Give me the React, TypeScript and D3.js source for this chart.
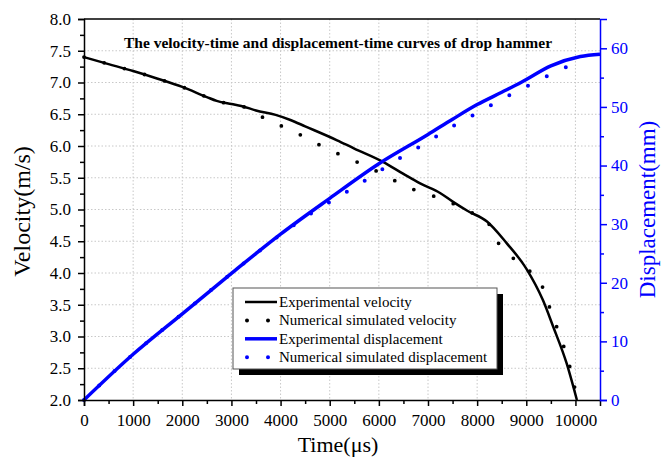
import React, { useRef, useEffect } from "react";
import * as d3 from "d3";

// experimental velocity (time in µs, velocity in m/s)
const expVelT = [0, 500, 1000, 1500, 2000, 2500, 2700, 3000, 3200, 3500, 3900, 4200, 4500, 5150, 5500, 6085, 6500, 6840, 7245, 7510, 7800, 8200, 8600, 9000, 9340, 9550, 9820, 10030];
const expVelV = [7.4, 7.29, 7.18, 7.06, 6.93, 6.77, 6.71, 6.66, 6.63, 6.56, 6.49, 6.41, 6.31, 6.09, 5.96, 5.75, 5.56, 5.41, 5.26, 5.12, 4.98, 4.81, 4.47, 4.07, 3.57, 3.15, 2.58, 2.0];

// numerical simulated velocity
const simVelT = [0, 500, 1000, 1500, 2000, 2500, 2700, 3000, 3200, 3400, 3765, 4172, 4558, 4965, 5372, 5780, 6186, 6593, 7000, 7434, 7800, 8215, 8384, 8655, 8995, 9280, 9436, 9586, 9742, 9870, 9971, 10050];
const simVelV = [7.4, 7.29, 7.18, 7.06, 6.93, 6.77, 6.71, 6.66, 6.63, 6.57, 6.39, 6.27, 6.11, 5.95, 5.81, 5.67, 5.51, 5.35, 5.24, 5.12, 4.98, 4.8, 4.53, 4.29, 4.07, 3.87, 3.54, 3.22, 2.89, 2.57, 2.24, 2.0];

// experimental displacement (mm)
const expDispT = [0, 1000, 2000, 3000, 4000, 5000, 6000, 7000, 7500, 8000, 8500, 8900, 9500, 10100, 10500];
const expDispD = [0, 7.8, 14.7, 21.6, 28.3, 34.4, 40.3, 45.3, 47.9, 50.4, 52.5, 54.2, 57.0, 58.6, 59.0];

// numerical simulated displacement (mm)
const simDispT = [0, 1000, 2000, 3000, 4000, 4600, 5244, 5651, 6024, 6410, 6783, 7163, 7550, 7943, 8330, 8724, 9123, 9530, 9924];
const simDispD = [0, 7.8, 14.7, 21.6, 28.2, 31.7, 35.0, 37.1, 39.1, 41.2, 43.0, 44.95, 46.9, 48.7, 50.5, 52.3, 54.0, 55.7, 57.2];

const xTicks = [0, 1000, 2000, 3000, 4000, 5000, 6000, 7000, 8000, 9000, 10000];
const vTicks = [2.0, 2.5, 3.0, 3.5, 4.0, 4.5, 5.0, 5.5, 6.0, 6.5, 7.0, 7.5, 8.0];
const dTicks = [0, 10, 20, 30, 40, 50, 60];

const legendLabels = [
  "Experimental velocity",
  "Numerical simulated velocity",
  "Experimental displacement",
  "Numerical simulated displacement",
];

const BLUE = "#0000ff";
const FONT = "'Liberation Serif', 'Times New Roman', serif";

export default function App() {
  const svgRef = useRef<SVGSVGElement>(null);

  useEffect(() => {
    const svg = d3.select(svgRef.current);
    svg.selectAll("*").remove();

    const m = { left: 84, right: 63, top: 19, bottom: 62 };
    const W = 663, H = 462;
    const x = d3.scaleLinear().domain([0, 10500]).range([m.left, W - m.right]);
    const yv = d3.scaleLinear().domain([2, 8]).range([H - m.bottom, m.top]);
    const yd = d3.scaleLinear().domain([0, 65]).range([H - m.bottom, m.top]);

    svg.append("rect").attr("width", W).attr("height", H).attr("fill", "#fff");

    // grid
    const grid = svg.append("g").attr("stroke", "#c8c8c8").attr("stroke-width", 1).attr("stroke-dasharray", "1.5 2");
    xTicks.filter(t => t > 0).forEach(t => {
      grid.append("line").attr("x1", x(t)).attr("x2", x(t)).attr("y1", m.top).attr("y2", H - m.bottom);
    });
    vTicks.filter(t => t > 2 && t < 8).forEach(t => {
      grid.append("line").attr("x1", m.left).attr("x2", W - m.right).attr("y1", yv(t)).attr("y2", yv(t));
    });

    const mk = (ts: number[], vs: number[], ys: d3.ScaleLinear<number, number>) =>
      d3.line<number>().x(i => x(ts[i])).y(i => ys(vs[i])).curve(d3.curveMonotoneX)(d3.range(ts.length));

    // dotted simulated curves first, solid experimental curves on top
    svg.append("path").attr("d", mk(simVelT, simVelV, yv)!)
      .attr("fill", "none").attr("stroke", "#000").attr("stroke-width", 3.8)
      .attr("stroke-linecap", "round").attr("stroke-dasharray", "0 21");
    svg.append("path").attr("d", mk(expVelT, expVelV, yv)!)
      .attr("fill", "none").attr("stroke", "#000").attr("stroke-width", 2.5);
    svg.append("path").attr("d", mk(simDispT, simDispD, yd)!)
      .attr("fill", "none").attr("stroke", BLUE).attr("stroke-width", 4)
      .attr("stroke-linecap", "round").attr("stroke-dasharray", "0 21");
    svg.append("path").attr("d", mk(expDispT, expDispD, yd)!)
      .attr("fill", "none").attr("stroke", BLUE).attr("stroke-width", 3.5);

    // frame
    svg.append("line").attr("x1", m.left).attr("x2", W - m.right).attr("y1", m.top).attr("y2", m.top)
      .attr("stroke", "#000").attr("stroke-width", 1.5);

    // bottom axis
    const xa = svg.append("g").attr("transform", `translate(0,${H - m.bottom})`)
      .call(d3.axisBottom(x).tickValues(xTicks).tickSize(6).tickFormat(d3.format("d")));
    const xMinor = svg.append("g").attr("transform", `translate(0,${H - m.bottom})`)
      .call(d3.axisBottom(x).tickValues(d3.range(500, 10500, 1000)).tickSize(4).tickFormat(() => ""));
    [xa, xMinor].forEach(g => {
      g.select(".domain").attr("stroke-width", 1.5);
      g.selectAll(".tick line").attr("stroke-width", 1.5);
    });
    xMinor.select(".domain").remove();
    xa.selectAll("text").attr("font-family", FONT).attr("font-size", 17).attr("fill", "#000").attr("dy", "1.0em");

    // left axis
    const ya = svg.append("g").attr("transform", `translate(${m.left},0)`)
      .call(d3.axisLeft(yv).tickValues(vTicks).tickSize(6).tickFormat(d3.format(".1f")));
    const yMinor = svg.append("g").attr("transform", `translate(${m.left},0)`)
      .call(d3.axisLeft(yv).tickValues(d3.range(2.25, 8, 0.5)).tickSize(4).tickFormat(() => ""));
    [ya, yMinor].forEach(g => {
      g.select(".domain").attr("stroke-width", 1.5);
      g.selectAll(".tick line").attr("stroke-width", 1.5);
    });
    yMinor.select(".domain").remove();
    ya.selectAll("text").attr("font-family", FONT).attr("font-size", 17).attr("fill", "#000").attr("x", -13);

    // right axis
    const ra = svg.append("g").attr("transform", `translate(${W - m.right},0)`)
      .call(d3.axisRight(yd).tickValues(dTicks).tickSize(7).tickFormat(d3.format("d")));
    const rMinor = svg.append("g").attr("transform", `translate(${W - m.right},0)`)
      .call(d3.axisRight(yd).tickValues(d3.range(5, 65, 10)).tickSize(4).tickFormat(() => ""));
    [ra, rMinor].forEach(g => {
      g.select(".domain").attr("stroke", BLUE).attr("stroke-width", 1.5);
      g.selectAll(".tick line").attr("stroke", BLUE).attr("stroke-width", 1.5);
    });
    rMinor.select(".domain").remove();
    ra.selectAll("text").attr("font-family", FONT).attr("font-size", 17).attr("fill", BLUE).attr("x", 11);

    // axis titles
    svg.append("text").attr("x", (m.left + W - m.right) / 2 - 4).attr("y", 452)
      .attr("text-anchor", "middle").attr("font-family", FONT).attr("font-size", 22).text("Time(μs)");
    svg.append("text").attr("transform", `translate(30,${(m.top + H - m.bottom) / 2 + 2}) rotate(-90)`)
      .attr("text-anchor", "middle").attr("font-family", FONT).attr("font-size", 24).text("Velocity(m/s)");
    svg.append("text").attr("transform", `translate(655,${(m.top + H - m.bottom) / 2}) rotate(-90)`)
      .attr("text-anchor", "middle").attr("font-family", FONT).attr("font-size", 23).attr("fill", BLUE)
      .text("Displacement(mm)");

    // title
    svg.append("text").attr("x", 338).attr("y", 48).attr("text-anchor", "middle")
      .attr("font-family", FONT).attr("font-weight", "bold").attr("font-size", 15.5)
      .text("The velocity-time and displacement-time curves of drop hammer");

    // legend
    const lg = svg.append("g").attr("transform", "translate(233,288)");
    const lw = 264, lh = 81;
    lg.append("rect").attr("x", 6).attr("y", 6).attr("width", lw).attr("height", lh).attr("fill", "#000");
    lg.append("rect").attr("width", lw).attr("height", lh).attr("fill", "#fff").attr("stroke", "#555").attr("stroke-width", 1);
    legendLabels.forEach((label, i) => {
      const yy = 14 + i * 18.4;
      const col = i < 2 ? "#000" : BLUE;
      const ln = lg.append("line").attr("x1", 12).attr("x2", 44).attr("y1", yy).attr("y2", yy).attr("stroke", col);
      if (i % 2 === 0) ln.attr("stroke-width", i === 0 ? 2.5 : 3.5);
      else ln.attr("x1", 14).attr("stroke-width", 4).attr("stroke-linecap", "round").attr("stroke-dasharray", "0 21");
      lg.append("text").attr("x", 46).attr("y", yy).attr("dy", "0.33em")
        .attr("font-family", FONT).attr("font-size", 15).attr("fill", "#000").text(label);
    });
  }, []);

  return (
    <div style={{ position: "absolute", left: 0, top: 0 }}>
      <svg ref={svgRef} width={663} height={462} style={{ display: "block" }} />
    </div>
  );
}
